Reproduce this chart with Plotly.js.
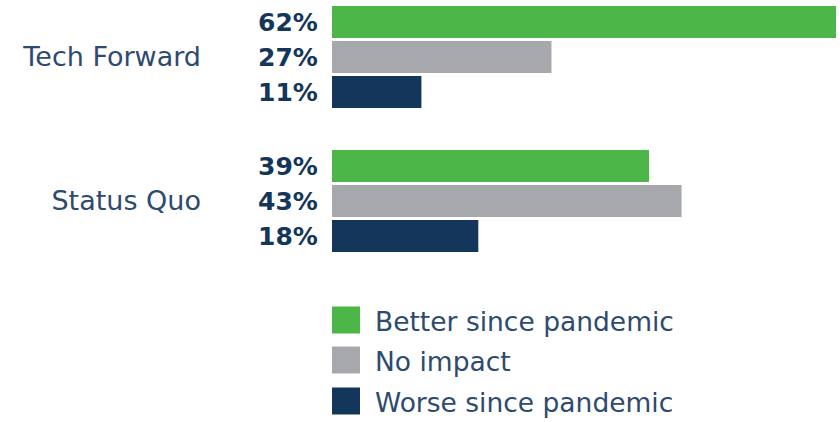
<!DOCTYPE html>
<html><head><meta charset="utf-8">
<script src="https://cdn.plot.ly/plotly-3.0.1.min.js"></script>
<style>html,body{margin:0;padding:0;background:#fff}#chart{width:840px;height:422px}</style>
</head><body><div id="chart"></div>
<script>
// Data
var categories = ["Tech Forward", "Status Quo"];
var seriesNames = ["Better since pandemic", "No impact", "Worse since pandemic"];
var better = [62, 39];
var noImpact = [27, 43];
var worse = [11, 18];
var seriesValues = [better, noImpact, worse];
var colors = ["#4cb748", "#a7a8ab", "#13365a"];

var W = 840, H = 422, mL = 332, mR = 4, mT = 0, plotH = 288;
var barW = 0.222, slot = 0.243;
var offsets = [-slot - barW/2, -barW/2, slot - barW/2];

var traces = seriesValues.map(function(vals, k){
  return {
    type: 'bar', orientation: 'h', name: seriesNames[k],
    y: categories, x: vals,
    width: barW, offset: offsets[k],
    marker: {color: colors[k]}, showlegend: false, hoverinfo: 'none'
  };
});

var annotations = [];
seriesValues.forEach(function(vals, k){
  vals.forEach(function(v, i){
    annotations.push({
      xref: 'x', yref: 'y', x: 0, y: i + offsets[k] + barW/2,
      text: '<b>' + v + '%</b>', showarrow: false,
      xanchor: 'right', yanchor: 'middle', xshift: -12,
      font: {family: 'DejaVu Sans', size: 25, color: '#13365a'}
    });
  });
});

// legend (drawn manually for large swatches)
function px2paperY(p){ return 1 - (p - mT) / plotH; }
function px2paperX(p){ return (p - mL) / (W - mL - mR); }
var shapes = [];
var legendCenters = [320, 360, 401];
seriesNames.forEach(function(n, k){
  var c = legendCenters[k];
  shapes.push({type:'rect', xref:'paper', yref:'paper',
    x0: px2paperX(332), x1: px2paperX(360), y0: px2paperY(c-13.5), y1: px2paperY(c+13.5),
    fillcolor: colors[k], line: {width: 0}});
  annotations.push({xref:'paper', yref:'paper', x: px2paperX(373), y: px2paperY(c+1),
    text: n, showarrow: false, xanchor: 'left', yanchor: 'middle',
    font: {family: 'DejaVu Sans', size: 26.5, color: '#2e4a6e'}});
});

var layout = {
  width: W, height: H,
  margin: {l: mL, r: mR, t: mT, b: H - mT - plotH, pad: 0},
  paper_bgcolor: '#fff', plot_bgcolor: '#fff',
  barmode: 'overlay',
  xaxis: {range: [0, 62], visible: false, fixedrange: true},
  yaxis: {type: 'category', range: [1.604, -0.396], showgrid: false, zeroline: false,
    showline: false, ticks: '', ticklabelstandoff: 130,
    tickfont: {family: 'DejaVu Sans', size: 27, color: '#2e4a6e'}},
  showlegend: false,
  annotations: annotations, shapes: shapes
};
Plotly.newPlot('chart', traces, layout, {displayModeBar: false, staticPlot: true});
</script></body></html>
